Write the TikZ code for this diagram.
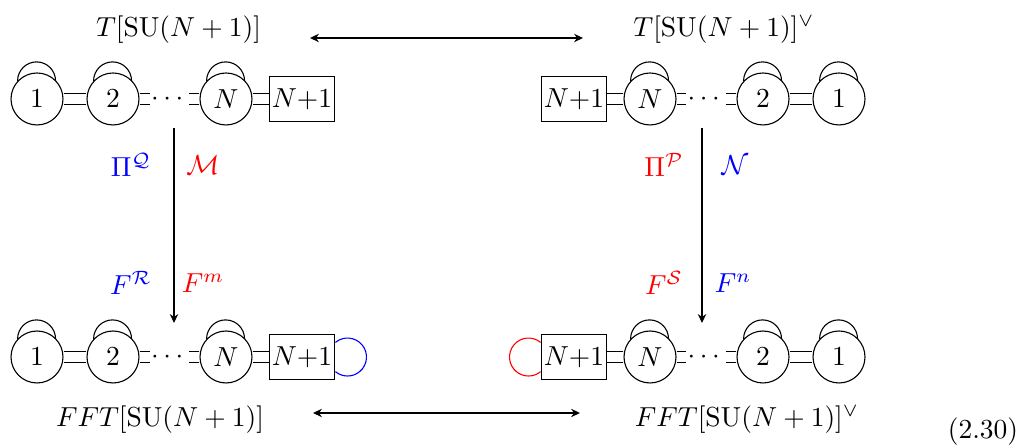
\documentclass[tikz,border=0pt]{standalone}
\usepackage{amsmath}
\usetikzlibrary{arrows.meta}

\begin{document}
\begin{tikzpicture}[x=0.3636pt, y=0.3636pt,
    >={Stealth[length=3.2pt, width=3pt, inset=1pt]},
    gauge/.style={circle, draw, minimum size=18.9pt, inner sep=0pt},
    flav/.style={rectangle, draw, minimum width=21.8pt, minimum height=16.4pt, inner sep=1pt},
    dots/.style={inner sep=0pt, minimum width=13.8pt, minimum height=8pt},
    link/.style={double, double distance=3.6pt},
    map/.style={semithick}]
  \useasboundingbox (0,0) rectangle (1022,448);

  % top left quiver
  \node[gauge] (TL1) at (37,349)  {$1$};
  \node[gauge] (TL2) at (113,349) {$2$};
  \node[dots]  (TLd) at (169.5,349) {\makebox[0pt]{$\cdots$}};
  \node[gauge] (TLN) at (226,349) {$N$};
  \node[flav]  (TLF) at (302,349) {$N$+1};

  % top right quiver
  \node[flav]  (TRF) at (574,349) {$N$+1};
  \node[gauge] (TRN) at (650,349) {$N$};
  \node[dots]  (TRd) at (706,349) {\makebox[0pt]{$\cdots$}};
  \node[gauge] (TR2) at (763,349) {$2$};
  \node[gauge] (TR1) at (839,349) {$1$};

  % bottom left quiver
  \node[gauge] (BL1) at (37,91)  {$1$};
  \node[gauge] (BL2) at (113,91) {$2$};
  \node[dots]  (BLd) at (169.5,91) {\makebox[0pt]{$\cdots$}};
  \node[gauge] (BLN) at (226,91) {$N$};
  \node[flav]  (BLF) at (302,91) {$N$+1};

  % bottom right quiver
  \node[flav]  (BRF) at (574,91) {$N$+1};
  \node[gauge] (BRN) at (650,91) {$N$};
  \node[dots]  (BRd) at (706,91) {\makebox[0pt]{$\cdots$}};
  \node[gauge] (BR2) at (763,91) {$2$};
  \node[gauge] (BR1) at (839,91) {$1$};

  \foreach \a/\b in {TL1/TL2, TL2/TLd, TLd/TLN, TLN/TLF,
                     TRF/TRN, TRN/TRd, TRd/TR2, TR2/TR1,
                     BL1/BL2, BL2/BLd, BLd/BLN, BLN/BLF,
                     BRF/BRN, BRN/BRd, BRd/BR2, BR2/BR1}
    \draw[link] (\a) -- (\b);

  % adjoint loops
  \foreach \n in {TL1, TL2, TLN, TRN, TR2, TR1, BL1, BL2, BLN, BRN, BR2, BR1}
    \draw (\n.137) arc[start angle=180, end angle=0, radius=6.9pt];

  % flavour loops
  \draw[blue] ([yshift=5.3pt]BLF.east) arc[start angle=129.6, end angle=-129.6, radius=6.9pt];
  \draw[red]  ([yshift=5.3pt]BRF.west) arc[start angle=50.4, end angle=309.6, radius=6.9pt];

  % theory labels
  \node (TLlab) at (178.5,418) {$T[\mathrm{SU}(N+1)]$};
  \node (TRlab) at (724,418) {$T[\mathrm{SU}(N+1)]^\vee$};
  \node (BLlab) at (160,28) {$FFT[\mathrm{SU}(N+1)]$};
  \node (BRlab) at (747,28) {$FFT[\mathrm{SU}(N+1)]^\vee$};

  % arrows
  \coordinate (A) at (310,410);
  \coordinate (B) at (583,410);
  \coordinate (C) at (313,35);
  \coordinate (D) at (580,35);
  \coordinate (E) at (174,320);
  \coordinate (F) at (174,125);
  \coordinate (G) at (702,320);
  \coordinate (H) at (702,125);
  \draw[map, <->] (A) -- (B);
  \draw[map, <->] (C) -- (D);
  \draw[map, ->] (E) -- (F);
  \draw[map, ->] (G) -- (H);

  \node[blue] (PiQ) at (131,283) {$\Pi^{\mathcal{Q}}$};
  \node[red]  (cM)  at (203,283) {$\mathcal{M}$};
  \node[blue] (FR)  at (131,165) {$F^{\mathcal{R}}$};
  \node[red]  (Fm)  at (203,165) {$F^{m}$};
  \node[red]  (PiP) at (664,283) {$\Pi^{\mathcal{P}}$};
  \node[blue] (cN)  at (735,283) {$\mathcal{N}$};
  \node[red]  (FS)  at (664,165) {$F^{\mathcal{S}}$};
  \node[blue] (Fn)  at (733,165) {$F^{n}$};

  \node (eqno) at (983,16) {(2.30)};
\end{tikzpicture}
\end{document}
